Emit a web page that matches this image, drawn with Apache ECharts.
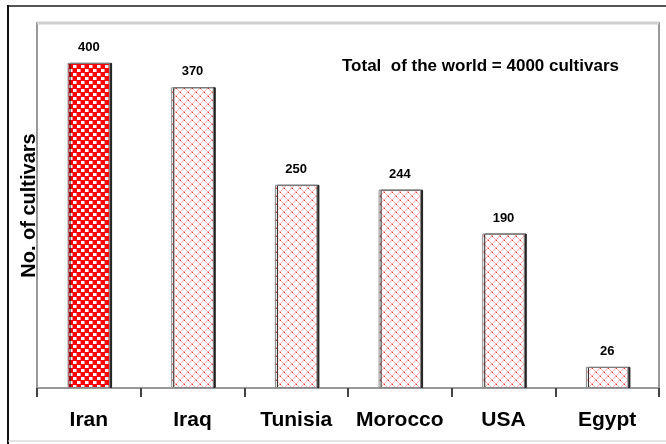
<!DOCTYPE html>
<html>
<head>
<meta charset="utf-8">
<script src="https://cdn.jsdelivr.net/npm/echarts@6/dist/echarts.min.js"></script>
<style>
html,body{margin:0;padding:0;background:#fff;}
#chart{width:666px;height:444px;}
</style>
</head>
<body>
<div id="chart"></div>
<script>
var categories = ['Iran', 'Iraq', 'Tunisia', 'Morocco', 'USA', 'Egypt'];
var cultivars = [400, 370, 250, 244, 190, 26];
var titleText = 'Total  of the world = 4000 cultivars';
var yAxisName = 'No. of cultivars';

function makeDense() {
  var c = document.createElement('canvas');
  c.width = 8; c.height = 8;
  var g = c.getContext('2d');
  g.fillStyle = '#ff0000'; g.fillRect(0, 0, 8, 8);
  g.fillStyle = '#ffffff';
  g.fillRect(1, 1, 3, 3);
  g.fillRect(5, 5, 3, 3);
  g.fillStyle = '#ff8080';
  g.fillRect(4, 1, 1, 3);
  g.fillRect(0, 5, 1, 3);
  return c;
}
function makeLattice() {
  var c = document.createElement('canvas');
  c.width = 8; c.height = 8;
  var g = c.getContext('2d');
  g.fillStyle = '#ffffff'; g.fillRect(0, 0, 8, 8);
  g.fillStyle = '#ffb0b0';
  for (var i = 0; i < 8; i++) {
    g.fillRect(i, i, 1, 1);
    g.fillRect(7 - i, i, 1, 1);
  }
  g.fillStyle = '#ff2a2a';
  g.fillRect(0, 0, 1, 1);
  g.fillRect(4, 4, 1, 1);
  return c;
}
var dense = makeDense();
var lattice = makeLattice();

var chart = echarts.init(document.getElementById('chart'));
chart.setOption({
  animation: false,
  backgroundColor: '#fff',
  title: {
    text: titleText,
    left: 337, top: 53,
    textStyle: {fontFamily: 'Liberation Sans', fontWeight: 'bold', fontSize: 17, color: '#000'}
  },
  graphic: [
    {type: 'line', shape: {x1: 8, y1: 6, x2: 666, y2: 6}, style: {stroke: '#555', lineWidth: 2}},
    {type: 'line', shape: {x1: 8, y1: 5, x2: 8, y2: 444}, style: {stroke: '#111', lineWidth: 2}},
    {type: 'line', shape: {x1: 8, y1: 441, x2: 666, y2: 441}, style: {stroke: '#ccc', lineWidth: 1}},
    {type: 'line', shape: {x1: 37, y1: 23, x2: 659, y2: 23}, style: {stroke: '#d0d0d0', lineWidth: 3}}
  ],
  grid: {
    left: 37, right: 7, top: 23, bottom: 56,
    show: true, borderColor: '#999', borderWidth: 2, backgroundColor: '#fff'
  },
  xAxis: {
    type: 'category',
    data: categories,
    axisLine: {lineStyle: {color: '#999', width: 2}},
    axisTick: {show: true, interval: 0, length: 9, lineStyle: {color: '#444', width: 2}},
    axisLabel: {
      interval: 0,
      margin: 22,
      fontFamily: 'Liberation Sans', fontWeight: 'bold', fontSize: 21, color: '#000'
    }
  },
  yAxis: {
    type: 'value',
    min: 0, max: 449,
    name: yAxisName,
    nameLocation: 'middle',
    nameGap: -2,
    nameTextStyle: {fontFamily: 'Liberation Sans', fontWeight: 'bold', fontSize: 20, color: '#000'},
    axisLine: {show: false},
    axisTick: {show: false},
    axisLabel: {show: false},
    splitLine: {show: false}
  },
  series: [{
    type: 'bar',
    barWidth: '41%',
    data: cultivars.map(function (v, i) {
      return {
        value: v,
        itemStyle: {
          color: {image: i === 0 ? dense : lattice, repetition: 'repeat'},
          borderColor: '#888', borderWidth: 1,
          shadowColor: '#222', shadowOffsetX: 2, shadowOffsetY: 0, shadowBlur: 0
        }
      };
    }),
    label: {
      show: true, position: 'top', distance: 9,
      fontFamily: 'Liberation Sans', fontWeight: 'bold', fontSize: 13, color: '#000'
    }
  }]
});
</script>
</body>
</html>
